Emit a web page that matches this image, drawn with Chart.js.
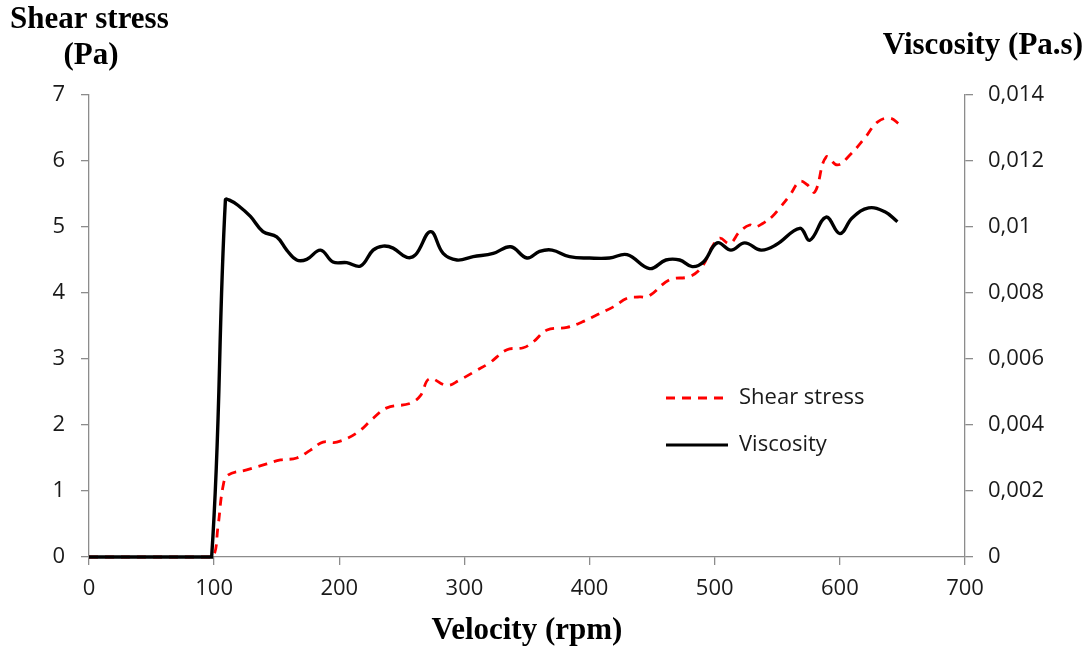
<!DOCTYPE html>
<html>
<head>
<meta charset="utf-8">
<script src="https://cdn.jsdelivr.net/npm/chart.js@4/dist/chart.umd.min.js"></script>
<style>
  html, body { margin: 0; padding: 0; background: #ffffff; }
  #wrap { width: 1091px; height: 652px; }
</style>
</head>
<body>
<div id="wrap"><canvas id="chart" width="1091" height="652"></canvas></div>
<script>
// Shear stress (Pa) against rotor velocity (rpm)
const shearRpm = [0, 50, 90, 99, 103, 107, 111, 126, 142, 153, 166, 177, 187, 198, 214, 227, 238, 257, 265, 272,
  286, 296, 310, 320, 334, 347, 355, 366, 382, 394, 406, 419, 430, 440, 447, 464, 480, 490, 498, 504,
  512, 520, 528, 532, 538, 546, 552, 560, 568, 574, 580, 589, 598, 608, 620, 630, 640, 648];
const shearPa = [0, 0, 0, 0, 0.45, 1.06, 1.24, 1.32, 1.41, 1.47, 1.5, 1.62, 1.74, 1.74, 1.88, 2.1, 2.26, 2.33, 2.45, 2.7,
  2.6, 2.68, 2.83, 2.94, 3.14, 3.17, 3.26, 3.44, 3.48, 3.56, 3.67, 3.79, 3.92, 3.94, 3.95, 4.2, 4.25, 4.4, 4.7, 4.83,
  4.75, 4.93, 5.03, 5.0, 5.05, 5.16, 5.29, 5.48, 5.69, 5.64, 5.53, 6.06, 5.94, 6.09, 6.35, 6.59, 6.65, 6.55];

// Viscosity (Pa.s) against rotor velocity (rpm)
const viscRpm = [0, 50, 90, 98, 109, 113, 119, 129, 139, 150, 158, 166, 174, 185, 195, 206, 217, 227, 235, 243,
  254, 261, 273, 283, 294, 307, 323, 337, 350, 360, 370, 384, 400, 416, 430, 448, 461, 472, 482, 491,
  502, 513, 524, 537, 549, 568, 576, 589, 600, 610, 623, 636, 646];
const viscPas = [0, 0, 0, 0, 0.01082, 0.0108, 0.01066, 0.01032, 0.00986, 0.0097, 0.0093, 0.009, 0.00902, 0.0093, 0.00894, 0.00892, 0.00882, 0.0093, 0.00942, 0.00936,
  0.00908, 0.00916, 0.00986, 0.0092, 0.009, 0.0091, 0.0092, 0.0094, 0.00906, 0.00926, 0.0093, 0.0091, 0.00906, 0.00906, 0.00916, 0.00874, 0.009, 0.009, 0.0088, 0.00894,
  0.00952, 0.0093, 0.00952, 0.0093, 0.00946, 0.00996, 0.0096, 0.0103, 0.0098, 0.01028, 0.01058, 0.01046, 0.01016];

// Axis ranges and labels
const velocityRange = [0, 700, 100];
const shearRange = [0, 7, 1];
const viscRange = [0, 0.014, 0.002];
const seriesNames = ['Shear stress', 'Viscosity'];
const axisTitles = { x: 'Velocity (rpm)', left: ['Shear stress', '(Pa)'], right: 'Viscosity (Pa.s)' };

const AXIS_GREY = '#8c8c8c';
const TICK_FONT = { family: '"Open Sans", "Noto Sans", sans-serif', size: 22 };
const TITLE_FONT = 'bold 31px "Liberation Serif", "DejaVu Serif", serif';

const toPoints = (xs, ys) => xs.map((x, i) => ({ x: x, y: ys[i] }));

// Decimal comma, trailing zeros dropped (0,01 rather than 0,010)
const commaDecimal = (v) => {
  if (Math.abs(v) < 1e-12) return '0';
  return String(parseFloat(v.toFixed(3))).replace('.', ',');
};

// Axis titles above the two value axes
const topTitles = {
  id: 'topTitles',
  afterDraw(chart) {
    const ctx = chart.ctx;
    ctx.save();
    ctx.font = TITLE_FONT;
    ctx.fillStyle = '#000';
    ctx.textBaseline = 'alphabetic';
    ctx.textAlign = 'left';
    ctx.fillText(axisTitles.left[0], 10, 28);
    ctx.textAlign = 'center';
    ctx.fillText(axisTitles.left[1], 91, 64);
    ctx.textAlign = 'right';
    ctx.fillText(axisTitles.right, 1083, 54);
    ctx.restore();
  }
};

// Legend drawn inside the plot area
const innerLegend = {
  id: 'innerLegend',
  afterDraw(chart) {
    const ctx = chart.ctx;
    const rows = [398, 445];
    ctx.save();
    chart.data.datasets.forEach((ds, i) => {
      const y = rows[i];
      ctx.beginPath();
      ctx.strokeStyle = ds.borderColor;
      ctx.lineWidth = 3;
      ctx.setLineDash(ds.borderDash || []);
      ctx.moveTo(666, y);
      ctx.lineTo(728, y);
      ctx.stroke();
      ctx.setLineDash([]);
      ctx.font = `${TICK_FONT.size}px ${TICK_FONT.family}`;
      ctx.fillStyle = '#1a1a1a';
      ctx.textAlign = 'left';
      ctx.textBaseline = 'middle';
      ctx.fillText(ds.label, 739, y);
    });
    ctx.restore();
  }
};

const axisGrid = {
  drawOnChartArea: false,
  drawTicks: true,
  tickLength: 8,
  color: AXIS_GREY,
  lineWidth: 1.3
};

new Chart(document.getElementById('chart'), {
  type: 'line',
  data: {
    datasets: [
      {
        label: seriesNames[0],
        data: toPoints(shearRpm, shearPa),
        yAxisID: 'yShear',
        order: 1,
        clip: false,
        borderColor: '#ff0000',
        borderWidth: 2.8,
        borderDash: [9, 7],
        pointRadius: 0,
        tension: 0.4,
        fill: false
      },
      {
        label: seriesNames[1],
        data: toPoints(viscRpm, viscPas),
        yAxisID: 'yVisc',
        order: 0,
        clip: false,
        borderColor: '#000000',
        borderWidth: 3.4,
        pointRadius: 0,
        tension: 0.4,
        fill: false
      }
    ]
  },
  options: {
    responsive: false,
    animation: false,
    layout: { padding: { top: 95, left: 0, right: 0, bottom: 0 } },
    plugins: {
      legend: { display: false },
      tooltip: { enabled: false }
    },
    scales: {
      x: {
        type: 'linear',
        position: 'bottom',
        min: velocityRange[0],
        max: velocityRange[1],
        ticks: { stepSize: velocityRange[2], font: TICK_FONT, color: '#1a1a1a', padding: 11 },
        grid: axisGrid,
        border: { color: AXIS_GREY, width: 1.3 },
        title: {
          display: true,
          text: axisTitles.x,
          color: '#000',
          font: { family: '"Liberation Serif", "DejaVu Serif", serif', size: 31, weight: 'bold' },
          padding: { top: 0, bottom: 2 }
        },
        afterFit(scale) { scale.height = 95; }
      },
      yShear: {
        type: 'linear',
        position: 'left',
        min: shearRange[0],
        max: shearRange[1],
        ticks: { stepSize: shearRange[2], font: TICK_FONT, color: '#1a1a1a', padding: 16 },
        grid: axisGrid,
        border: { color: AXIS_GREY, width: 1.3 },
        afterFit(scale) { scale.width = 89; }
      },
      yVisc: {
        type: 'linear',
        position: 'right',
        min: viscRange[0],
        max: viscRange[1],
        ticks: {
          stepSize: viscRange[2],
          font: TICK_FONT,
          color: '#1a1a1a',
          padding: 15,
          callback: commaDecimal
        },
        grid: axisGrid,
        border: { color: AXIS_GREY, width: 1.3 },
        afterFit(scale) { scale.width = 126; }
      }
    }
  },
  plugins: [topTitles, innerLegend]
});
</script>
</body>
</html>
